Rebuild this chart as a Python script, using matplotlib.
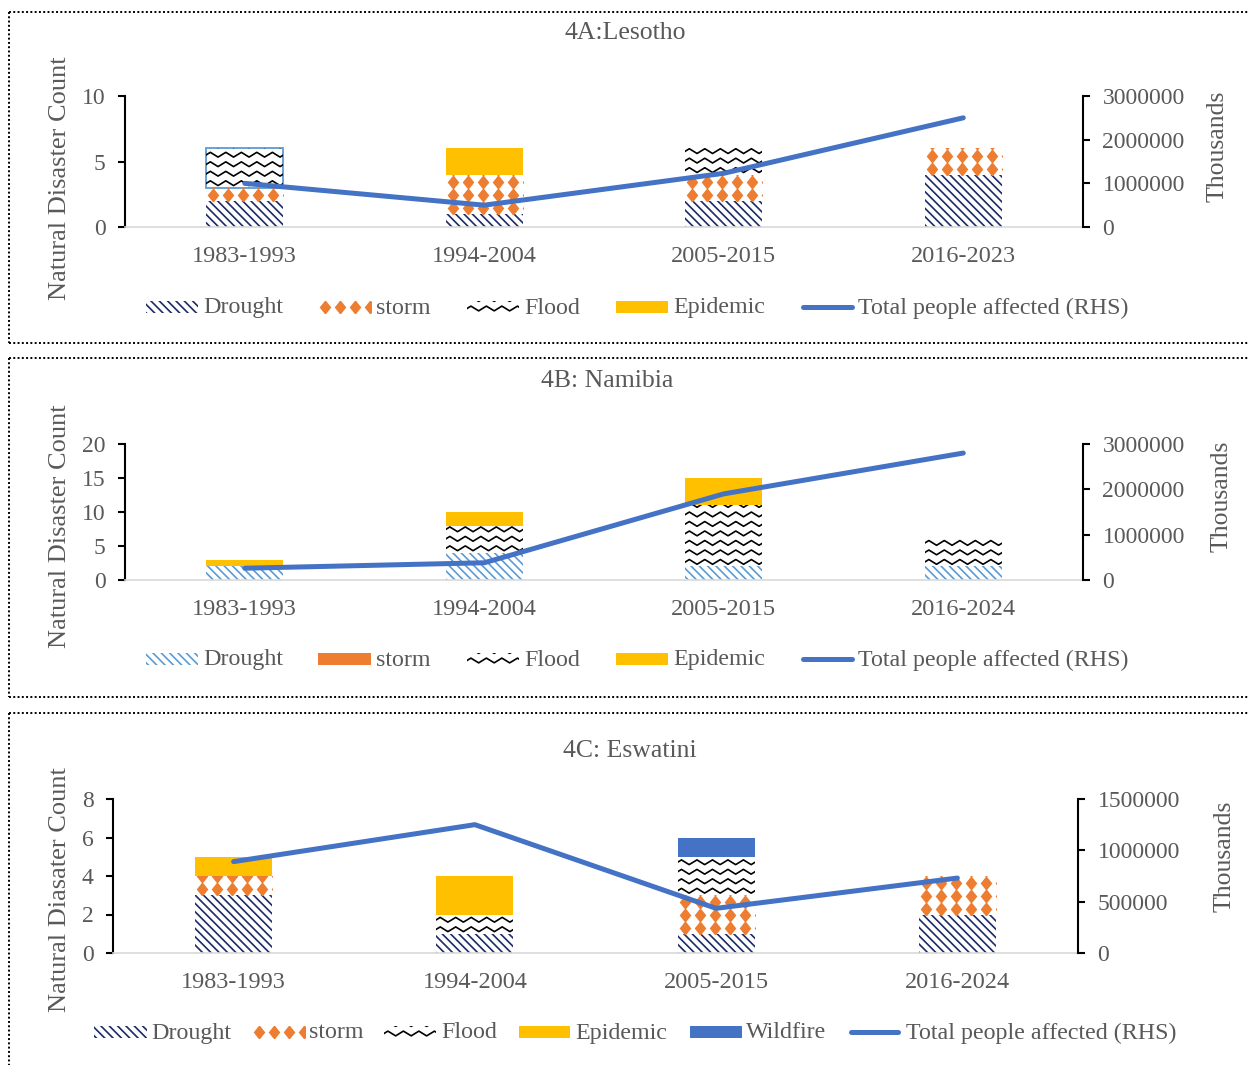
## import libraries ##
import matplotlib
matplotlib.use('Agg')
import matplotlib.pyplot as plt
import numpy as np
from matplotlib.lines import Line2D
from matplotlib.patches import Rectangle
from matplotlib.transforms import IdentityTransform

plt.rcParams['font.family'] = ['Liberation Serif', 'DejaVu Serif']
plt.rcParams['hatch.linewidth'] = 1.2

## data ##
periods_a = ['1983-1993', '1994-2004', '2005-2015', '2016-2023']
drought_a = [2, 1, 2, 4]
storm_a = [1, 3, 2, 2]
flood_a = [3, 0, 2, 0]
epidemic_a = [0, 2, 0, 0]
affected_a = [1000000, 500000, 1230000, 2500000]

periods_b = ['1983-1993', '1994-2004', '2005-2015', '2016-2024']
drought_b = [2, 4, 2, 2]
storm_b = [0, 0, 0, 0]
flood_b = [0, 4, 9, 4]
epidemic_b = [1, 2, 4, 0]
affected_b = [260000, 380000, 1900000, 2800000]

periods_c = ['1983-1993', '1994-2004', '2005-2015', '2016-2024']
drought_c = [3, 1, 1, 2]
storm_c = [1, 0, 2, 2]
flood_c = [0, 1, 2, 0]
epidemic_c = [1, 2, 0, 0]
wildfire_c = [0, 0, 1, 0]
affected_c = [890000, 1250000, 435000, 730000]

## styles ##
W, H = 1248, 1065
GREY = '#595959'
NAVY = '#1c2a66'
LIGHTBLUE = '#5b9bd5'
ORANGE = '#ed7d31'
GOLD = '#ffc000'
BLUE = '#4472c4'
ID = IdentityTransform()
DIAMOND = [(0, 1), (0.8, 0), (0, -1), (-0.8, 0), (0, 1)]
HATCH = '\\\\\\\\'

fig = plt.figure(figsize=(W / 100, H / 100), dpi=100)


def add_texture(parent, clip, bb, kind, color):
    # pattern fills drawn in pixels, clipped to the bar
    x0, y0, x1, y1 = bb.x0, bb.y0, bb.x1, bb.y1
    arts = []
    if kind == 'wave':
        for yr in np.arange(y0 + 4.5, y1 + 5, 9.5):
            xs = np.linspace(x0 - 2, x1 + 2, 300)
            ys = yr + 2.4 * (2 / np.pi) * np.arcsin(np.sin(2 * np.pi * (xs - x0) / 15.5))
            arts.append(Line2D(xs, ys, transform=ID, color='black', lw=1.2))
    elif kind == 'diamond':
        gx, gy = np.meshgrid(np.arange(x0 + 7, x1 + 8, 15),
                             np.arange(y0 + 6, y1 + 14, 13))
        arts.append(Line2D(gx.ravel(), gy.ravel(), transform=ID, ls='none',
                           marker=DIAMOND, ms=10.5, mfc=color, mec='none'))
    for a in arts:
        parent.add_artist(a)
        a.set_clip_path(clip)


def panel(l, r, top, bot, periods, stacks, affected, ymax, ystep, rmax, rstep):
    ax = fig.add_axes([l / W, 1 - bot / H, (r - l) / W, (bot - top) / H])
    x = np.arange(len(periods))
    ax.set_xlim(-0.5, len(periods) - 0.5)
    ax.set_ylim(0, ymax)
    base = np.zeros(len(periods))
    made = []
    for vals, kind, color in stacks:
        if kind == 'hatch':
            bars = ax.bar(x, vals, 0.32, bottom=base, facecolor='white',
                          edgecolor=color, lw=0, hatch=HATCH)
        elif kind == 'solid':
            bars = ax.bar(x, vals, 0.32, bottom=base, color=color, lw=0)
        else:
            bars = ax.bar(x, vals, 0.32, bottom=base, facecolor='white', lw=0)
        made.append((bars, kind, color))
        base = base + np.array(vals)
    for bars, kind, color in made:
        if kind in ('wave', 'diamond'):
            for p in bars:
                if p.get_height() > 0:
                    add_texture(ax, p, p.get_window_extent(), kind, color)

    ax.set_xticks(x)
    ax.set_xticklabels(periods)
    ax.set_yticks(np.arange(0, ymax + 1, ystep))
    for s in ['top', 'right']:
        ax.spines[s].set_visible(False)
    ax.spines['left'].set_linewidth(1.5)
    ax.spines['bottom'].set_color('#d9d9d9')
    ax.spines['bottom'].set_linewidth(1.2)
    ax.tick_params(axis='y', direction='out', length=5, width=1.5,
                   labelcolor=GREY, labelsize=17, pad=9)
    ax.tick_params(axis='x', length=0, pad=14, labelcolor=GREY, labelsize=17.5)

    ax2 = ax.twinx()
    ax2.set_ylim(0, rmax)
    ax2.plot(x, affected, color=BLUE, lw=3.6, solid_capstyle='round',
             solid_joinstyle='round')
    ticks = np.arange(0, rmax + 1, rstep)
    ax2.set_yticks(ticks)
    ax2.set_yticklabels([f'{int(v)}' for v in ticks])
    for s in ['top', 'left', 'bottom']:
        ax2.spines[s].set_visible(False)
    ax2.spines['right'].set_linewidth(1.5)
    ax2.tick_params(axis='y', direction='out', length=5, width=1.5,
                    labelcolor=GREY, labelsize=17, pad=9)
    return ax, made


def legend(y, entries):
    yd = H - y
    for kind, color, x0, x1, tx, label in entries:
        if kind == 'line':
            fig.add_artist(Line2D([x0 + 3, x1 - 3], [yd, yd], transform=ID,
                                  color=color, lw=3.6, solid_capstyle='round'))
        else:
            if kind == 'hatch':
                sw = Rectangle((x0, yd - 6), x1 - x0, 12, transform=ID, facecolor='white',
                               edgecolor=color, lw=0, hatch=HATCH)
            elif kind == 'solid':
                sw = Rectangle((x0, yd - 6), x1 - x0, 12, transform=ID, color=color, lw=0)
            else:
                sw = Rectangle((x0, yd - 6), x1 - x0, 12, transform=ID, facecolor='white', lw=0)
            fig.add_artist(sw)
            if kind in ('wave', 'diamond'):
                add_texture(fig, sw, sw.get_window_extent(), kind, color)
        fig.text(tx / W, 1 - (y + 1) / H, label, color=GREY, fontsize=17.3,
                 ha='left', va='center')


def border(top, bot):
    kw = dict(transform=ID, color='black', lw=1.4, ls=(0, (1, 1.2)))
    fig.add_artist(Line2D([9, 9], [H - top, H - bot], **kw))
    fig.add_artist(Line2D([9, W], [H - top, H - top], **kw))
    if bot < H:
        fig.add_artist(Line2D([9, W], [H - bot, H - bot], **kw))


## 4A: Lesotho ##
ax_a, made_a = panel(125, 1083, 96, 227, periods_a,
                     [(drought_a, 'hatch', NAVY), (storm_a, 'diamond', ORANGE),
                      (flood_a, 'wave', 'black'), (epidemic_a, 'solid', GOLD)],
                     affected_a, 10, 5, 3000000, 1000000)
first_flood = made_a[2][0][0]
first_flood.set_edgecolor(LIGHTBLUE)
first_flood.set_linewidth(1.3)
fig.text(625 / W, 1 - 33 / H, '4A:Lesotho', color=GREY, fontsize=18.5, ha='center', va='center')
fig.text(60 / W, 1 - 178 / H, 'Natural Disaster Count', color=GREY, fontsize=19,
         rotation=90, ha='center', va='center')
fig.text(1218 / W, 1 - 146 / H, 'Thousands', color=GREY, fontsize=18.5,
         rotation=90, ha='center', va='center')
legend(307, [('hatch', NAVY, 146, 198, 203, 'Drought'),
             ('diamond', ORANGE, 318, 371, 376, 'storm'),
             ('wave', 'black', 467, 519, 524, 'Flood'),
             ('solid', GOLD, 616, 668, 673, 'Epidemic'),
             ('line', BLUE, 800, 855, 858, 'Total people affected (RHS)')])
border(12, 343)

## 4B: Namibia ##
panel(125, 1083, 444, 580, periods_b,
      [(drought_b, 'hatch', LIGHTBLUE), (storm_b, 'solid', ORANGE),
       (flood_b, 'wave', 'black'), (epidemic_b, 'solid', GOLD)],
      affected_b, 20, 5, 3000000, 1000000)
fig.text(607 / W, 1 - 381 / H, '4B: Namibia', color=GREY, fontsize=18.5, ha='center', va='center')
fig.text(60 / W, 1 - 526 / H, 'Natural Disaster Count', color=GREY, fontsize=19,
         rotation=90, ha='center', va='center')
fig.text(1222 / W, 1 - 496 / H, 'Thousands', color=GREY, fontsize=18.5,
         rotation=90, ha='center', va='center')
legend(659, [('hatch', LIGHTBLUE, 146, 198, 203, 'Drought'),
             ('solid', ORANGE, 318, 371, 376, 'storm'),
             ('wave', 'black', 467, 519, 524, 'Flood'),
             ('solid', GOLD, 616, 668, 673, 'Epidemic'),
             ('line', BLUE, 800, 855, 858, 'Total people affected (RHS)')])
border(358, 697)

## 4C: Eswatini ##
panel(113, 1078, 799, 953, periods_c,
      [(drought_c, 'hatch', NAVY), (storm_c, 'diamond', ORANGE),
       (flood_c, 'wave', 'black'), (epidemic_c, 'solid', GOLD),
       (wildfire_c, 'solid', BLUE)],
      affected_c, 8, 2, 1500000, 500000)
fig.text(630 / W, 1 - 751 / H, '4C: Eswatini', color=GREY, fontsize=18.5, ha='center', va='center')
fig.text(60 / W, 1 - 890 / H, 'Natural Diasater Count', color=GREY, fontsize=19,
         rotation=90, ha='center', va='center')
fig.text(1225 / W, 1 - 856 / H, 'Thousands', color=GREY, fontsize=18.5,
         rotation=90, ha='center', va='center')
legend(1032, [('hatch', NAVY, 94, 147, 151, 'Drought'),
              ('diamond', ORANGE, 252, 305, 309, 'storm'),
              ('wave', 'black', 384, 436, 441, 'Flood'),
              ('solid', GOLD, 519, 570, 575, 'Epidemic'),
              ('solid', BLUE, 690, 742, 746, 'Wildfire'),
              ('line', BLUE, 848, 901, 906, 'Total people affected (RHS)')])
border(713, H)

fig.savefig('out.png', dpi=100)
